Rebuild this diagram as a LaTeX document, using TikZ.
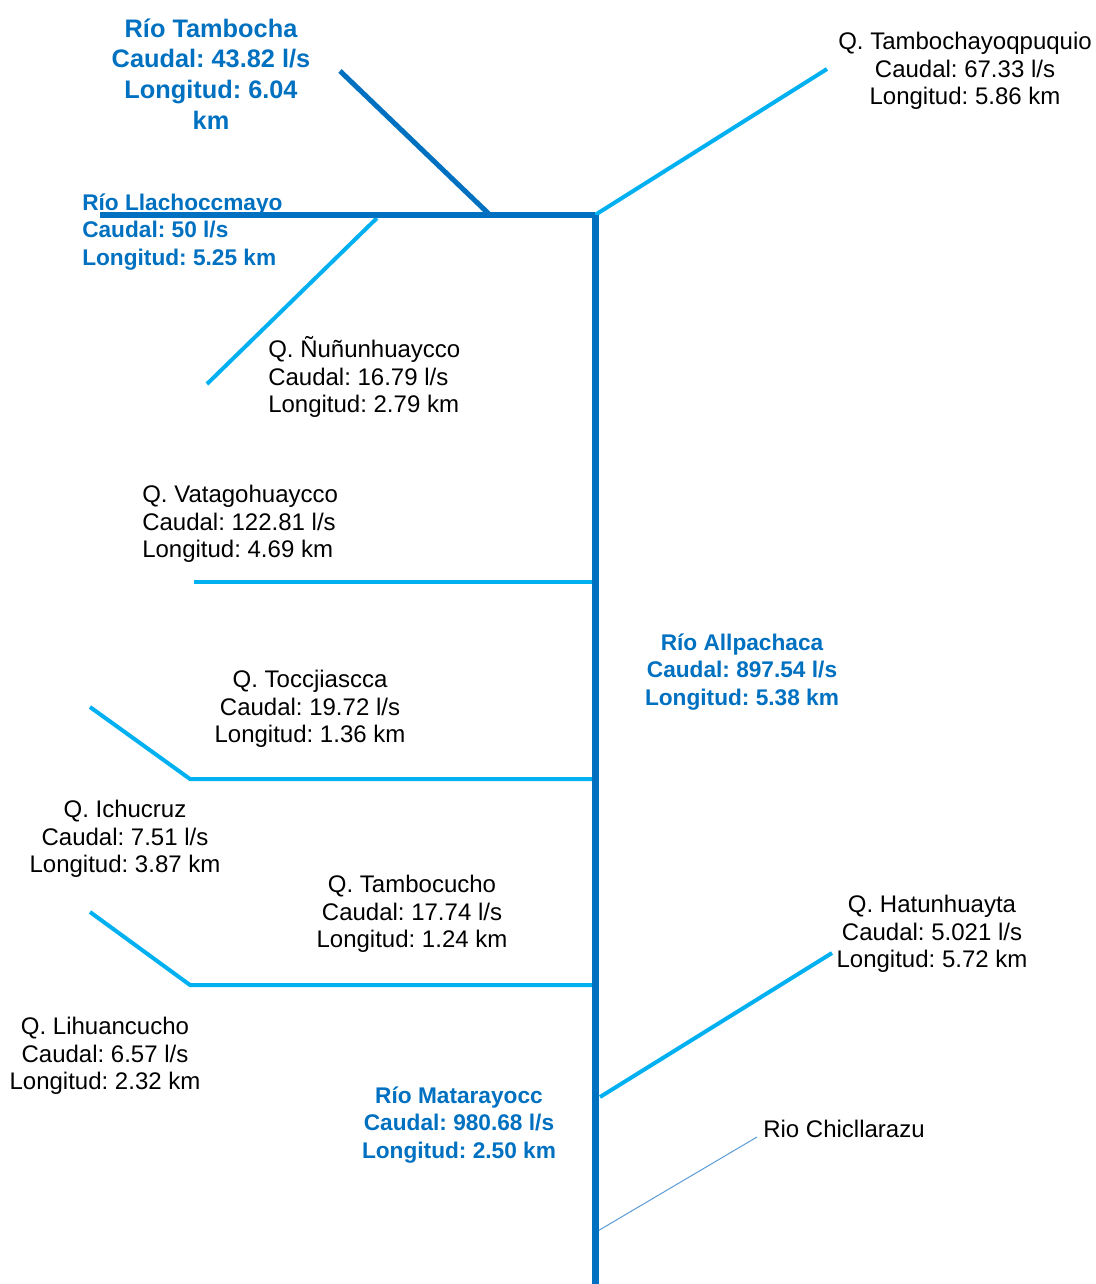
\documentclass[tikz,border=0pt]{standalone}
\usepackage{fontspec}
\setmainfont{Liberation Sans}
\usetikzlibrary{positioning}
\frenchspacing
\definecolor{azulrio}{HTML}{0070C0}
\definecolor{celeste}{HTML}{00B0F0}
\definecolor{azulfino}{HTML}{5B9BD5}
\tikzset{
  x=0.75pt, y=-0.75pt,
  troncal/.style={draw=azulrio, line width=5.25pt},
  rio/.style={draw=azulrio, line width=4pt},
  quebrada/.style={draw=celeste, line width=3pt},
  fino/.style={draw=azulfino, line width=0.75pt},
  qtexto/.style={font=\fontsize{18}{20.5}\selectfont, align=center, inner sep=0pt},
  riotexto/.style={font=\fontsize{17}{20.6}\selectfont\bfseries, text=azulrio, align=center, inner sep=0pt}
}

\begin{document}
\begin{tikzpicture}
  \useasboundingbox (0,0) rectangle (1095,1284);

  % puntos de los cauces
  \coordinate (nace) at (595,215);
  \coordinate (desemb) at (595,1284);
  \coordinate (llach) at (100,215);
  \coordinate (jtamb) at (490,215);
  \coordinate (tamb) at (340,71);
  \coordinate (tpq) at (827,69);
  \coordinate (jnun) at (377,218);
  \coordinate (nun) at (207,384);
  \coordinate (jvat) at (595,582);
  \coordinate (vat) at (194,582);
  \coordinate (jtoc) at (595,779);
  \coordinate (toc) at (190,779);
  \coordinate (ichu) at (90,707);
  \coordinate (jtbc) at (595,985);
  \coordinate (tbc) at (190,985);
  \coordinate (lihu) at (90,912);
  \coordinate (jhat) at (600,1097);
  \coordinate (hat) at (832,953);
  \coordinate (jchi) at (596,1232);
  \coordinate (chi) at (757,1137);

  % quebradas
  \draw[quebrada] (nace) -- (tpq);
  \draw[quebrada] (jnun) -- (nun);
  \draw[quebrada] (jvat) -- (vat);
  \draw[quebrada] (jtoc) -- (toc) -- (ichu);
  \draw[quebrada] (jtbc) -- (tbc) -- (lihu);
  \draw[quebrada] (jhat) -- (hat);
  \draw[fino] (jchi) -- (chi);

  % rios
  \draw[rio] (llach) -- (nace);
  \draw[rio, line width=3.75pt] (tamb) -- (jtamb);
  \draw[troncal] (nace) -- (desemb);

  % etiquetas
  \node[riotexto, font=\fontsize{19}{23}\selectfont\bfseries] (ttamb) at (211,74)
    {Río Tambocha\\Caudal: 43.82 l/s\\Longitud: 6.04\\km};
  \node[qtexto] (ttpq) at (965,71)
    {Q. Tambochayoqpuquio\\Caudal: 67.33 l/s\\Longitud: 5.86 km};
  \node[riotexto, align=left, anchor=west] (tllach) at (82,232)
    {Río Llachoccmayo\\Caudal: 50 l/s\\Longitud: 5.25 km};
  \node[qtexto, align=left, anchor=west] (tnun) at (268,377)
    {Q. Ñuñunhuaycco\\Caudal: 16.79 l/s\\Longitud: 2.79 km};
  \node[qtexto, align=left, anchor=west] (tvat) at (142,524)
    {Q. Vatagohuaycco\\Caudal: 122.81 l/s\\Longitud: 4.69 km};
  \node[riotexto] (tallp) at (742,672)
    {Río Allpachaca\\Caudal: 897.54 l/s\\Longitud: 5.38 km};
  \node[qtexto] (ttoc) at (310,709)
    {Q. Toccjiascca\\Caudal: 19.72 l/s\\Longitud: 1.36 km};
  \node[qtexto] (tichu) at (125,839)
    {Q. Ichucruz\\Caudal: 7.51 l/s\\Longitud: 3.87 km};
  \node[qtexto] (ttbc) at (412,914)
    {Q. Tambocucho\\Caudal: 17.74 l/s\\Longitud: 1.24 km};
  \node[qtexto] (that) at (932,934)
    {Q. Hatunhuayta\\Caudal: 5.021 l/s\\Longitud: 5.72 km};
  \node[qtexto] (tlihu) at (105,1056)
    {Q. Lihuancucho\\Caudal: 6.57 l/s\\Longitud: 2.32 km};
  \node[riotexto] (tmata) at (459,1125)
    {Río Matarayocc\\Caudal: 980.68 l/s\\Longitud: 2.50 km};
  \node[qtexto, anchor=west] (tchi) at (763,1129) {Rio Chicllarazu};
\end{tikzpicture}
\end{document}
